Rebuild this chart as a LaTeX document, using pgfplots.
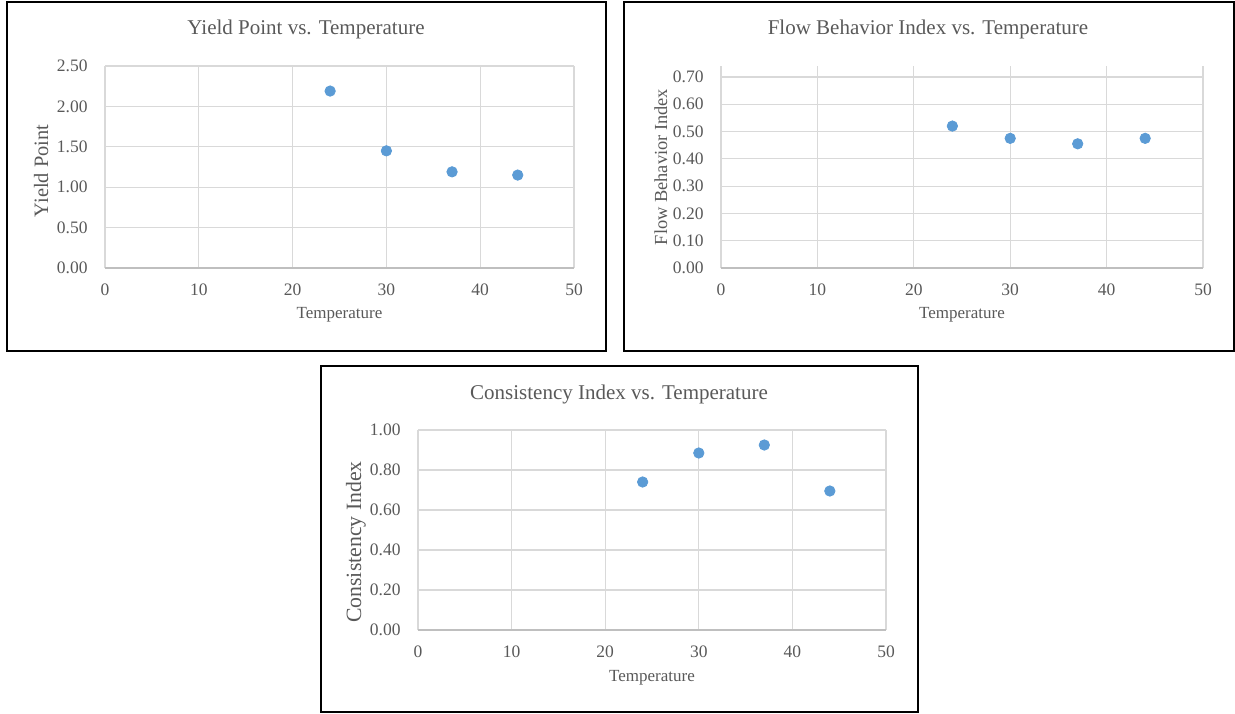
\documentclass[border=0pt]{standalone}
\usepackage{fontspec}
\setmainfont{Liberation Serif}
\usepackage{pgfplots}
\pgfplotsset{compat=1.18}
\definecolor{txt}{HTML}{595959}
\definecolor{gridc}{HTML}{D9D9D9}
\definecolor{axc}{HTML}{BFBFBF}
\definecolor{dot}{HTML}{5B9BD5}
\pgfplotsset{
 excel/.style={
  scale only axis,
  anchor=south west,
  xmin=0,xmax=50,ymin=0,
  xtick={0,10,20,30,40,50},
  grid=major,
  grid style={draw=gridc, line width=0.6pt},
  axis line style={draw=none},
  major tick length=0pt,
  tick style={draw=none},
  /pgf/number format/assume math mode=true,
  ticklabel style={inner sep=0pt, text=txt, font=\fontsize{8.75}{10}\selectfont},
  xticklabel style={anchor=north, yshift=-7.5pt},
  yticklabel style={anchor=east, xshift=-8.5pt, /pgf/number format/.cd, fixed, fixed zerofill, precision=2},
  xlabel={Temperature},
  xlabel style={at={([yshift=-25pt]rel axis cs:0.5,0)}, anchor=base, text=txt, font=\fontsize{8.5}{10}\selectfont, inner sep=0pt},
  ylabel style={anchor=base, text=txt, inner sep=0pt},
  title style={anchor=base, text=txt, font=\fontsize{10.5}{12}\selectfont, inner sep=0pt, yshift=0pt},
  clip=false,
 },
 dots/.style={only marks, mark=*, mark size=2.6pt, mark options={fill=dot, draw=dot}}
}
\begin{document}
\begin{tikzpicture}
\path[use as bounding box] (0,0) rectangle (617.5pt,356.5pt);
\draw[line width=0.75pt] (3.5pt,181pt) rectangle (303pt,355.5pt);
\draw[line width=0.75pt] (312pt,181pt) rectangle (617pt,355.5pt);
\draw[line width=0.75pt] (160.5pt,0.5pt) rectangle (459pt,173.5pt);

\begin{axis}[excel, at={(52.5pt,222.5pt)}, width=234.5pt, height=101pt,
  ymax=2.5, ytick={0,0.5,1,1.5,2,2.5},
  title={Yield Point vs. Temperature},
  title style={at={([yshift=10pt]rel axis cs:0.4286,1)}},
  ylabel={Yield Point},
  ylabel style={at={([xshift=-28.5pt,yshift=-2pt]rel axis cs:0,0.5)}, font=\fontsize{10.2}{11}\selectfont}]
\addplot[dots] coordinates {(24,2.19) (30,1.45) (37,1.19) (44,1.15)};
\draw[axc, line width=0.75pt] (rel axis cs:0,0) -- (rel axis cs:1,0);
\end{axis}

\begin{axis}[excel, at={(360.5pt,222.5pt)}, width=241pt, height=101pt,
  ymax=0.74, ytick={0,0.1,0.2,0.3,0.4,0.5,0.6,0.7},
  title={Flow Behavior Index vs. Temperature},
  title style={at={([yshift=10pt]rel axis cs:0.4295,1)}},
  ylabel={Flow Behavior Index},
  ylabel style={at={([xshift=-27pt]rel axis cs:0,0.5)}, font=\fontsize{9.2}{11}\selectfont}]
\addplot[dots] coordinates {(24,0.52) (30,0.475) (37,0.455) (44,0.475)};
\draw[axc, line width=0.75pt] (rel axis cs:0,0) -- (rel axis cs:1,0);
\end{axis}

\begin{axis}[excel, at={(209pt,41.5pt)}, width=234pt, height=100pt,
  ymax=1, ytick={0,0.2,0.4,0.6,0.8,1},
  title={Consistency Index vs. Temperature},
  title style={at={([yshift=9.5pt]rel axis cs:0.4295,1)}},
  xlabel style={at={([yshift=-25.5pt]rel axis cs:0.5,0)}},
  ylabel={Consistency Index},
  ylabel style={at={([xshift=-28.5pt,yshift=-6pt]rel axis cs:0,0.5)}, font=\fontsize{10.9}{12}\selectfont}]
\addplot[dots] coordinates {(24,0.74) (30,0.885) (37,0.925) (44,0.695)};
\draw[axc, line width=0.75pt] (rel axis cs:0,0) -- (rel axis cs:1,0);
\end{axis}
\end{tikzpicture}
\end{document}
